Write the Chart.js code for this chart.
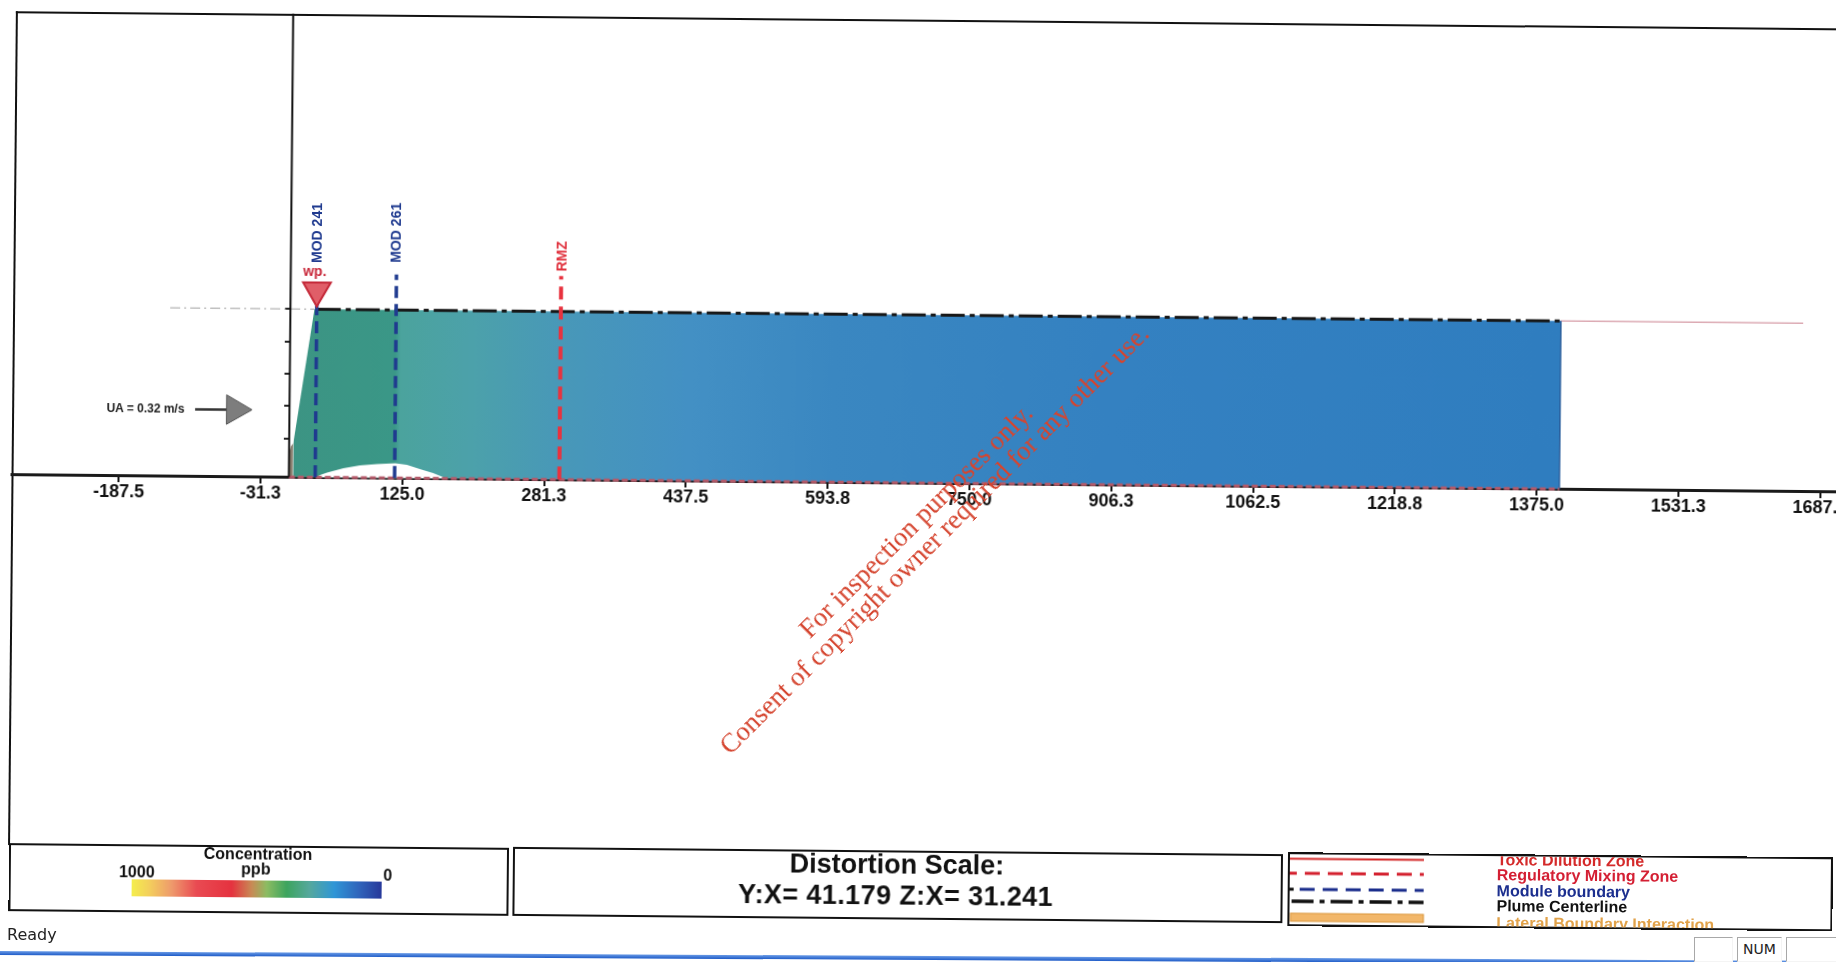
<!DOCTYPE html>
<html lang="en">
<head>
<meta charset="UTF-8">
<meta name="viewport" content="width=device-width, initial-scale=1.0">
<title>Plume side view</title>
<style>
    html, body { margin: 0; padding: 0; width: 1836px; height: 962px; overflow: hidden; background: #fff; font-family: 'Liberation Sans', Arial, sans-serif; color: #111; }
    #page { position: absolute; left: 0; top: 0; width: 1836px; height: 962px; transform: rotate(0.54deg); transform-origin: 0 0; }
    #frame { position: absolute; left: 16px; top: 11px; width: 1940px; height: 834px; border-left: 2px solid #111; border-top: 2px solid #111; box-sizing: border-box; }
    #plot { position: absolute; left: 0; top: 0; }
    .tag { position: absolute; white-space: nowrap; line-height: 1; font-weight: bold; transform: translate(-50%, -50%); }
    .tag.vert { transform: translate(-50%, -50%) rotate(-90deg); }
    .box { position: absolute; border: 2px solid #111; box-sizing: border-box; overflow: hidden; background: #fff; }
    .box .t { position: absolute; white-space: nowrap; line-height: 1; font-weight: bold; }
    .c { transform: translate(-50%, -50%); }
    .l { transform: translate(0, -50%); }
    #bar { position: absolute; left: 121px; top: 33px; width: 250px; height: 17px;
        background: linear-gradient(to right, #f4ee4c 0%, #f3cf5c 7%, #ee9a6c 16%, #e94a52 26%, #e5323f 40%, #c88a55 48%, #8cbc62 54%, #3da45e 62%, #55a89c 71%, #2f96d6 81%, #2f64bb 91%, #27389a 100%); }
    #legendLines { position: absolute; left: 0; top: 0; }
    #watermark { position: absolute; left: 925px; top: 530px; transform: translate(-50%, -50%) rotate(-45deg); font-family: 'Liberation Serif', 'DejaVu Serif', serif; font-size: 27px; line-height: 26px; color: #d5442e; text-align: center; white-space: nowrap; z-index: 5; }
    #ready { position: absolute; left: 7px; top: 927px; font-family: 'DejaVu Sans', sans-serif; font-size: 16px; line-height: 16px; color: #222; }
    #taskline { position: absolute; left: 0; top: 951px; width: 1840px; height: 4px; background: linear-gradient(#6a9be6, #1f5cc8); transform: rotate(0.31deg); transform-origin: 0 0; }
    .sb { position: absolute; top: 937px; height: 25px; box-sizing: border-box; border: 1px solid; border-color: #a8a8a8 #f4f4f4 #f4f4f4 #a8a8a8; font-family: 'DejaVu Sans', sans-serif; font-size: 14px; line-height: 23px; text-align: center; color: #222; background: #fff; }
</style>
</head>
<body>
<div id="page">
    <div id="frame"></div>
    <canvas id="plot" width="1920" height="845"></canvas>

    <div class="box" style="left:17px; top:843px; width:500px; height:68px;">
        <div class="t c" style="left:247px; top:7px; font-size:16px;">Concentration</div>
        <div class="t c" style="left:245px; top:22px; font-size:16px;">ppb</div>
        <div class="t c" style="left:126px; top:26px; font-size:16px;">1000</div>
        <div id="bar"></div>
        <div class="t c" style="left:377px; top:27px; font-size:16px;">0</div>
    </div>

    <div class="box" style="left:521px; top:842px; width:770px; height:69px;">
        <div class="t c" style="left:382px; top:12px; font-size:27px;">Distortion Scale:</div>
        <div class="t c" style="left:381px; top:43px; font-size:27px; letter-spacing:0.4px;">Y:X= 41.179 Z:X= 31.241</div>
    </div>

    <div class="box" id="legendBox" style="left:1296px; top:840px; width:545px; height:74px;">
        <svg id="legendLines" width="140" height="72">
            <line x1="0" y1="4.5" x2="134" y2="4.5" stroke="#d42a2a" stroke-width="2"/>
            <line x1="0" y1="19" x2="134" y2="19" stroke="#d4202e" stroke-width="3" stroke-dasharray="15 8" stroke-dashoffset="8"/>
            <line x1="0" y1="35" x2="4" y2="35" stroke="#111" stroke-width="3"/>
            <line x1="10" y1="35" x2="134" y2="35" stroke="#1a2d8c" stroke-width="3" stroke-dasharray="15 8"/>
            <line x1="2" y1="47" x2="134" y2="47" stroke="#111" stroke-width="3.5" stroke-dasharray="22 6 5 6"/>
            <rect x="1" y="59" width="133" height="8" fill="#f2b76a" stroke="#d9953a" stroke-width="1"/>
        </svg>
        <div class="t l" style="left:207px; top:4px; font-size:16px; color:#d42a2a;">Toxic Dilution Zone</div>
        <div class="t l" style="left:207px; top:19px; font-size:16px; color:#d41f33;">Regulatory Mixing Zone</div>
        <div class="t l" style="left:207px; top:34.5px; font-size:16px; color:#1c2f8f;">Module boundary</div>
        <div class="t l" style="left:207px; top:50px; font-size:16px; color:#111;">Plume Centerline</div>
        <div class="t l" style="left:207px; top:67px; font-size:16px; color:#e1a24a;">Lateral Boundary Interaction</div>
    </div>
</div>

<div id="watermark">For inspection purposes only.<br>Consent of copyright owner required for any other use.</div>

<div id="ready">Ready</div>
<div id="taskline"></div>
<div class="sb" style="left:1694px; width:39px;"></div>
<div class="sb" style="left:1737px; width:45px;">NUM</div>
<div class="sb" style="left:1786px; width:52px;"></div>

<script src="https://cdn.jsdelivr.net/npm/chart.js"></script>
<script>
    // downstream distance x (m) and height above bottom (m)
    const xTickValues = [-187.5, -31.25, 125, 281.25, 437.5, 593.75, 750, 906.25, 1062.5, 1218.75, 1375, 1531.25, 1687.5];
    const xTickLabels = ['-187.5', '-31.3', '125.0', '281.3', '437.5', '593.8', '750.0', '906.3', '1062.5', '1218.8', '1375.0', '1531.3', '1687.5'];
    const yTickValues = [1.2, 2.2, 3.2, 4.2, 5.2];
    const xMin = -305.6, xMax = 1770.4;
    const yMin = -11.32, yMax = 14.34;

    // plume outline (upper edge, filled down to the bottom)
    const plumeX = [4.6, 4.6, 26.5, 1400, 1400];
    const plumeY = [0, 1.05, 5.2, 5.2, 0];
    // near field wedge at the outfall
    const nearX = [0, 0, 2, 4.6, 4.6];
    const nearY = [0, 0.75, 0.95, 1.05, 0];
    // uncovered bottom under the first module
    const gapX = [30, 35, 42, 60, 78, 97, 117, 130, 145, 159, 168, 174];
    const gapY = [0, 0.08, 0.15, 0.29, 0.38, 0.43, 0.455, 0.41, 0.28, 0.16, 0.06, 0];

    const surfaceLevel = 5.2;
    const centerlineX = [29, 1400];
    const surfaceLeftX = [-132.5, 26.5];
    const surfaceRightX = [1400, 1667];

    const moduleNames = ['MOD 241', 'MOD 261'];
    const moduleX = [29, 116.5];
    const moduleTop = [6.0, 6.3];
    const rmzName = 'RMZ';
    const rmzX = 298;
    const rmzTop = 6.3;
    const wpName = 'wp.';
    const wpX = 29, wpY = 5.78;
    const uaLabel = 'UA = 0.32 m/s';
    const uaLabelX = -158.6, uaY = 2.07;
    const uaShaftX = [-104, -66];
    const uaHeadX = -60;

    // fill colours along the plume
    const plumeStopX = [0, 116, 122, 200, 298, 440, 600, 900, 1400];
    const plumeStopColors = ['#3c9483', '#3a9787', '#4ba39d', '#4ca1aa', '#4898b8', '#4390c4', '#3a87c1', '#3481c1', '#2f7dbf'];

    const pts = (xs, ys) => xs.map((x, i) => ({ x: x, y: ys[i] }));
    const hline = (xs, y) => xs.map(x => ({ x: x, y: y }));
    const vline = (x, top) => [{ x: x, y: 0 }, { x: x, y: top }];

    function plumeFill(context) {
        const chart = context.chart;
        if (!chart.chartArea) return '#3a88c0';
        const xs = chart.scales.x;
        const first = plumeStopX[0], last = plumeStopX[plumeStopX.length - 1];
        const g = chart.ctx.createLinearGradient(xs.getPixelForValue(first), 0, xs.getPixelForValue(last), 0);
        plumeStopX.forEach((v, i) => g.addColorStop((v - first) / (last - first), plumeStopColors[i]));
        return g;
    }

    const page = document.getElementById('page');
    const tags = [
        { text: moduleNames[0], x: moduleX[0] - 0.5, y: 7.55, color: '#1f3a8f', size: 14, vert: true },
        { text: moduleNames[1], x: moduleX[1] - 1.5, y: 7.58, color: '#1f3a8f', size: 14, vert: true },
        { text: rmzName, x: rmzX, y: 6.9, color: '#e0303c', size: 14, vert: true },
        { text: wpName, x: wpX - 2.5, y: 6.38, color: '#c8283a', size: 14 },
        { text: uaLabel, x: uaLabelX, y: uaY, color: '#222', size: 12 }
    ];
    tags.forEach(t => {
        const el = document.createElement('div');
        el.className = 'tag' + (t.vert ? ' vert' : '');
        el.textContent = t.text;
        el.style.color = t.color;
        el.style.fontSize = t.size + 'px';
        page.appendChild(el);
        t.el = el;
    });

    const placeTags = {
        id: 'placeTags',
        afterDraw(chart) {
            const xs = chart.scales.x, ys = chart.scales.y;
            tags.forEach(t => {
                t.el.style.left = xs.getPixelForValue(t.x) + 'px';
                t.el.style.top = ys.getPixelForValue(t.y) + 'px';
            });
        }
    };

    const lineBase = { showLine: true, pointRadius: 0, pointHoverRadius: 0, fill: false };

    const chart = new Chart(document.getElementById('plot'), {
        type: 'scatter',
        data: {
            datasets: [
                { label: 'UA head', data: [{ x: uaHeadX, y: uaY }], pointStyle: 'triangle', rotation: 90, pointRadius: 17, backgroundColor: '#7d7d7d', borderColor: '#555', borderWidth: 1, order: 0 },
                Object.assign({ label: 'UA', data: hline(uaShaftX, uaY), borderColor: '#333', borderWidth: 2.5, order: 1 }, lineBase),
                { label: wpName, data: [{ x: wpX, y: wpY }], pointStyle: 'triangle', rotation: 180, pointRadius: 16, backgroundColor: '#e05e68', borderColor: '#c42838', borderWidth: 2, order: 2 },
                Object.assign({ label: 'Vertical axis', data: vline(0, yMax), borderColor: '#111', borderWidth: 2, order: 3 }, lineBase),
                Object.assign({ label: rmzName, data: vline(rmzX, rmzTop), borderColor: '#e8323e', borderWidth: 4, borderDash: [13, 7], order: 4 }, lineBase),
                Object.assign({ label: moduleNames[0], data: vline(moduleX[0], moduleTop[0]), borderColor: '#1f3a8f', borderWidth: 3.5, borderDash: [12, 6], order: 5 }, lineBase),
                Object.assign({ label: moduleNames[1], data: vline(moduleX[1], moduleTop[1]), borderColor: '#1f3a8f', borderWidth: 3.5, borderDash: [12, 6], order: 6 }, lineBase),
                Object.assign({ label: 'Plume Centerline', data: hline(centerlineX, surfaceLevel), borderColor: '#161616', borderWidth: 3, borderDash: [24, 5, 5, 5], order: 7 }, lineBase),
                Object.assign({ label: 'Plume bottom', data: hline([0, plumeX[plumeX.length - 1]], 0), borderColor: '#b45a6a', borderWidth: 3, borderDash: [6, 3], order: 8 }, lineBase),
                Object.assign({ label: 'Plume end', data: vline(plumeX[plumeX.length - 1], surfaceLevel), borderColor: '#245a9a', borderWidth: 1.5, order: 9 }, lineBase),
                Object.assign({}, lineBase, { label: 'Bottom gap', data: pts(gapX, gapY), borderWidth: 0, backgroundColor: '#ffffff', fill: 'origin', order: 10 }),
                Object.assign({}, lineBase, { label: 'Plume', data: pts(plumeX, plumeY), borderWidth: 0, backgroundColor: plumeFill, fill: 'origin', order: 11 }),
                Object.assign({}, lineBase, { label: 'Near field', data: pts(nearX, nearY), borderWidth: 0, backgroundColor: '#8c8070', fill: 'origin', order: 12 }),
                Object.assign({ label: 'Surface left', data: hline(surfaceLeftX, surfaceLevel), borderColor: 'rgba(150,150,150,0.6)', borderWidth: 1.5, borderDash: [10, 4, 2, 4], order: 13 }, lineBase),
                Object.assign({ label: 'Surface right', data: hline(surfaceRightX, surfaceLevel), borderColor: '#dcaab3', borderWidth: 1.5, order: 14 }, lineBase)
            ]
        },
        options: {
            responsive: false,
            animation: false,
            events: [],
            layout: { autoPadding: false, padding: { left: 16, top: 11, right: 20, bottom: 5 } },
            plugins: { legend: { display: false }, tooltip: { enabled: false } },
            scales: {
                x: {
                    type: 'linear',
                    min: xMin,
                    max: xMax,
                    position: { y: 0 },
                    afterBuildTicks: scale => { scale.ticks = xTickValues.map(v => ({ value: v })); },
                    ticks: {
                        callback: (value, index) => xTickLabels[index],
                        autoSkip: false,
                        maxRotation: 0,
                        minRotation: 0,
                        padding: 1,
                        color: '#111',
                        font: { family: 'Liberation Sans', size: 18, weight: 'bold' }
                    },
                    grid: { drawOnChartArea: false, drawTicks: true, tickLength: 5, color: '#111', lineWidth: 2 },
                    border: { display: true, color: '#1a1a1a', width: 3, dash: [6, 2] }
                },
                y: {
                    type: 'linear',
                    min: yMin,
                    max: yMax,
                    position: { x: 0 },
                    afterBuildTicks: scale => { scale.ticks = yTickValues.map(v => ({ value: v })); },
                    ticks: { display: false },
                    grid: { drawOnChartArea: false, drawTicks: true, tickLength: 5, color: '#222', lineWidth: 2 },
                    border: { display: false }
                }
            }
        },
        plugins: [placeTags]
    });
</script>
</body>
</html>
